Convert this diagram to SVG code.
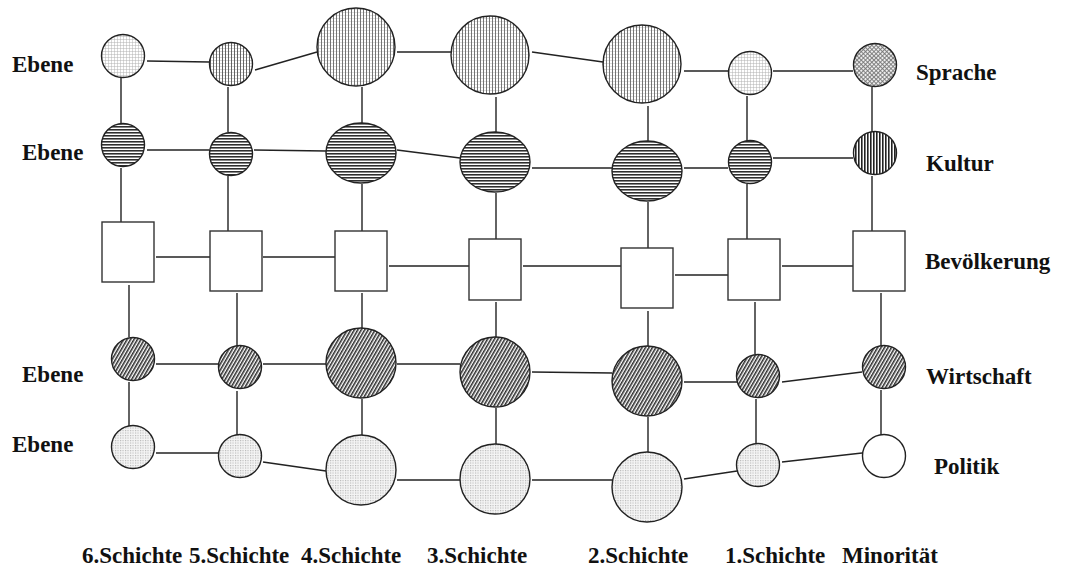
<svg xmlns="http://www.w3.org/2000/svg" width="1066" height="575" viewBox="0 0 1066 575">
<style>
.s{stroke:#222;stroke-width:1.4}
.r{fill:#fff;stroke:#333;stroke-width:1.4}
.c line{stroke:#222;stroke-width:1.4}
text{font-family:"Liberation Serif","Times New Roman",serif;font-weight:bold;font-size:23px;fill:#111}
</style>
<defs>
<pattern id="pGrid" width="3" height="3" patternUnits="userSpaceOnUse">
<rect width="3" height="3" fill="#fff"/>
<path d="M0 0.3H3M0.3 0V3" stroke="#b0b0b0" stroke-width="0.6"/>
</pattern>
<pattern id="pVGrid" width="3" height="3" patternUnits="userSpaceOnUse">
<rect width="3" height="3" fill="#fff"/>
<path d="M0 0.3H3" stroke="#bbb" stroke-width="0.6"/>
<path d="M0.5 0V3" stroke="#666" stroke-width="0.9"/>
</pattern>
<pattern id="pVGridD" width="3" height="3" patternUnits="userSpaceOnUse">
<rect width="3" height="3" fill="#fff"/>
<path d="M0 0.3H3" stroke="#aaa" stroke-width="0.6"/>
<path d="M0.5 0V3" stroke="#555" stroke-width="0.9"/>
</pattern>
<pattern id="pH" width="3" height="3" patternUnits="userSpaceOnUse">
<rect width="3" height="3" fill="#fff"/>
<path d="M0 0.8H3" stroke="#222" stroke-width="1.5"/>
</pattern>
<pattern id="pV" width="3" height="3" patternUnits="userSpaceOnUse">
<rect width="3" height="3" fill="#fff"/>
<path d="M0.8 0V3" stroke="#222" stroke-width="1.6"/>
</pattern>
<pattern id="pD" width="3" height="3" patternUnits="userSpaceOnUse" patternTransform="rotate(30)">
<rect width="3" height="3" fill="#fff"/>
<path d="M0.8 0V3" stroke="#222" stroke-width="1.5"/>
</pattern>
<pattern id="pX" width="3" height="3" patternUnits="userSpaceOnUse" patternTransform="rotate(45)">
<rect width="3" height="3" fill="#eee"/>
<path d="M0 0.5H3M0.5 0V3" stroke="#777" stroke-width="0.9"/>
</pattern>
<pattern id="pDot" width="2.5" height="2.5" patternUnits="userSpaceOnUse">
<rect width="2.5" height="2.5" fill="#f4f4f4"/>
<rect width="1.1" height="1.1" fill="#b5b5b5"/>
</pattern>
</defs>
<rect width="1066" height="575" fill="#fff"/>

<g id="connectors" class="c">
<line x1="147" y1="61" x2="209" y2="62"/>
<line x1="255" y1="70" x2="317" y2="52"/>
<line x1="397" y1="52" x2="451" y2="52"/>
<line x1="532" y1="52" x2="603" y2="62"/>
<line x1="684" y1="71" x2="728" y2="71"/>
<line x1="773" y1="71" x2="853" y2="71"/>
<line x1="121" y1="77" x2="121" y2="123"/>
<line x1="228" y1="87" x2="228" y2="132"/>
<line x1="362" y1="87" x2="362" y2="123"/>
<line x1="496" y1="97" x2="496" y2="132"/>
<line x1="648" y1="106" x2="648" y2="141"/>
<line x1="747" y1="96" x2="747" y2="141"/>
<line x1="872" y1="87" x2="872" y2="132"/>
<line x1="147" y1="150" x2="209" y2="150"/>
<line x1="254" y1="150" x2="326" y2="151"/>
<line x1="397" y1="150" x2="460" y2="158"/>
<line x1="532" y1="168" x2="612" y2="168"/>
<line x1="684" y1="168" x2="728" y2="168"/>
<line x1="773" y1="158" x2="853" y2="158"/>
<line x1="121" y1="168" x2="121" y2="222"/>
<line x1="228" y1="176" x2="228" y2="231"/>
<line x1="362" y1="184" x2="362" y2="231"/>
<line x1="496" y1="193" x2="496" y2="239"/>
<line x1="648" y1="202" x2="648" y2="248"/>
<line x1="747" y1="184" x2="747" y2="239"/>
<line x1="872" y1="176" x2="872" y2="231"/>
<line x1="156" y1="257" x2="210" y2="257"/>
<line x1="263" y1="257" x2="335" y2="257"/>
<line x1="389" y1="266" x2="469" y2="266"/>
<line x1="523" y1="266" x2="621" y2="266"/>
<line x1="675" y1="275" x2="728" y2="275"/>
<line x1="782" y1="266" x2="853" y2="266"/>
<line x1="129" y1="285" x2="129" y2="337"/>
<line x1="237" y1="293" x2="237" y2="346"/>
<line x1="362" y1="293" x2="362" y2="328"/>
<line x1="496" y1="302" x2="496" y2="337"/>
<line x1="648" y1="311" x2="648" y2="346"/>
<line x1="755" y1="302" x2="755" y2="354"/>
<line x1="881" y1="293" x2="881" y2="346"/>
<line x1="156" y1="364" x2="218" y2="364"/>
<line x1="263" y1="364" x2="326" y2="364"/>
<line x1="397" y1="364" x2="460" y2="364"/>
<line x1="532" y1="372" x2="612" y2="373"/>
<line x1="684" y1="382" x2="737" y2="382"/>
<line x1="782" y1="382" x2="862" y2="372"/>
<line x1="129" y1="382" x2="129" y2="426"/>
<line x1="237" y1="391" x2="237" y2="435"/>
<line x1="362" y1="399" x2="362" y2="435"/>
<line x1="496" y1="408" x2="496" y2="444"/>
<line x1="648" y1="417" x2="648" y2="452"/>
<line x1="756" y1="399" x2="756" y2="444"/>
<line x1="881" y1="390" x2="881" y2="435"/>
<line x1="156" y1="453" x2="218" y2="453"/>
<line x1="263" y1="462" x2="326" y2="471"/>
<line x1="397" y1="480" x2="460" y2="480"/>
<line x1="532" y1="480" x2="612" y2="480"/>
<line x1="684" y1="479" x2="737" y2="471"/>
<line x1="782" y1="462" x2="862" y2="453"/>
</g>

<g id="sprache-6"><circle class="s" cx="123" cy="56" r="21.5" fill="url(#pGrid)"/></g>
<g id="sprache-5"><circle class="s" cx="231" cy="64" r="21.5" fill="url(#pVGridD)"/></g>
<g id="sprache-4"><circle class="s" cx="356" cy="47" r="39" fill="url(#pVGrid)"/></g>
<g id="sprache-3"><circle class="s" cx="490" cy="55" r="39" fill="url(#pVGrid)"/></g>
<g id="sprache-2"><circle class="s" cx="642" cy="64" r="39" fill="url(#pVGrid)"/></g>
<g id="sprache-1"><circle class="s" cx="750" cy="73" r="21.5" fill="url(#pGrid)"/></g>
<g id="sprache-m"><circle class="s" cx="875" cy="65" r="21.5" fill="url(#pX)"/></g>

<g id="kultur-6"><circle class="s" cx="123" cy="145" r="21.5" fill="url(#pH)"/></g>
<g id="kultur-5"><circle class="s" cx="231" cy="154" r="21.5" fill="url(#pH)"/></g>
<g id="kultur-4"><ellipse class="s" cx="361" cy="153" rx="35" ry="30" fill="url(#pH)"/></g>
<g id="kultur-3"><ellipse class="s" cx="495" cy="162" rx="35" ry="30" fill="url(#pH)"/></g>
<g id="kultur-2"><ellipse class="s" cx="647" cy="171" rx="35" ry="30" fill="url(#pH)"/></g>
<g id="kultur-1"><circle class="s" cx="750" cy="162" r="21.5" fill="url(#pH)"/></g>
<g id="kultur-m"><circle class="s" cx="875" cy="153" r="21.5" fill="url(#pV)"/></g>

<g id="bev-6"><rect class="r" x="102" y="222" width="52" height="60"/></g>
<g id="bev-5"><rect class="r" x="210" y="231" width="52" height="60"/></g>
<g id="bev-4"><rect class="r" x="335" y="231" width="52" height="60"/></g>
<g id="bev-3"><rect class="r" x="469" y="239" width="52" height="61"/></g>
<g id="bev-2"><rect class="r" x="621" y="248" width="52" height="60"/></g>
<g id="bev-1"><rect class="r" x="728" y="239" width="52" height="61"/></g>
<g id="bev-m"><rect class="r" x="853" y="231" width="52" height="60"/></g>

<g id="wirt-6"><circle class="s" cx="133" cy="359" r="21.5" fill="url(#pD)"/></g>
<g id="wirt-5"><circle class="s" cx="240" cy="367" r="21.5" fill="url(#pD)"/></g>
<g id="wirt-4"><circle class="s" cx="361" cy="363" r="35" fill="url(#pD)"/></g>
<g id="wirt-3"><circle class="s" cx="495" cy="372" r="35" fill="url(#pD)"/></g>
<g id="wirt-2"><circle class="s" cx="647" cy="381" r="35" fill="url(#pD)"/></g>
<g id="wirt-1"><circle class="s" cx="758" cy="376" r="21.5" fill="url(#pD)"/></g>
<g id="wirt-m"><circle class="s" cx="884" cy="367" r="21.5" fill="url(#pD)"/></g>

<g id="pol-6"><circle class="s" cx="133" cy="447" r="21.5" fill="url(#pDot)"/></g>
<g id="pol-5"><circle class="s" cx="240" cy="456" r="21.5" fill="url(#pDot)"/></g>
<g id="pol-4"><circle class="s" cx="361" cy="470" r="35" fill="url(#pDot)"/></g>
<g id="pol-3"><circle class="s" cx="495" cy="479" r="35" fill="url(#pDot)"/></g>
<g id="pol-2"><circle class="s" cx="647" cy="487" r="35" fill="url(#pDot)"/></g>
<g id="pol-1"><circle class="s" cx="758" cy="465" r="21.5" fill="url(#pDot)"/></g>
<g id="pol-m"><circle class="s" cx="884" cy="456" r="21.5" fill="#fff"/></g>

<g id="labels">
<text x="12" y="72">Ebene</text>
<text x="22" y="160">Ebene</text>
<text x="22" y="382">Ebene</text>
<text x="12" y="452">Ebene</text>
<text x="916" y="80">Sprache</text>
<text x="926" y="171">Kultur</text>
<text x="925" y="269">Bevölkerung</text>
<text x="926" y="384">Wirtschaft</text>
<text x="934" y="474">Politik</text>
<text x="82" y="563">6.Schichte</text>
<text x="189" y="563">5.Schichte</text>
<text x="301" y="563">4.Schichte</text>
<text x="427" y="563">3.Schichte</text>
<text x="588" y="563">2.Schichte</text>
<text x="725" y="563">1.Schichte</text>
<text x="842" y="563">Minorität</text>
</g>
</svg>
